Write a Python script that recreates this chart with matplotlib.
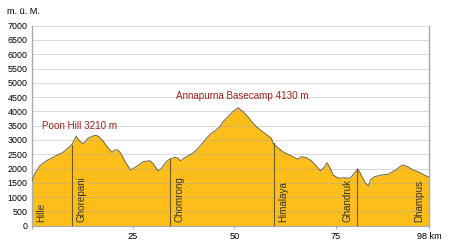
import matplotlib
matplotlib.use("Agg")
import matplotlib.pyplot as plt

plt.rcParams['font.family'] = ['Liberation Sans', 'DejaVu Sans']

# Elevation profile (km, m above sea level)
dist_km = [0, 0.9, 2.1, 3.7, 5.0, 6.2, 7.8, 9.5, 9.9, 11.0, 11.9, 12.8, 14.0, 15.6, 16.5,
           17.7, 18.9, 19.8, 20.6, 21.4, 22.2, 23.0, 24.4, 25.8, 27.5, 29.1, 29.9, 31.2,
           32.0, 33.2, 34.0, 35.3, 36.1, 36.7, 37.7, 39.0, 40.2, 41.4, 43.1, 44.3, 45.5,
           46.4, 47.2, 48.4, 49.6, 50.9, 52.1, 53.3, 54.1, 55.4, 56.6, 57.8, 59.1, 59.5,
           60.7, 61.9, 63.2, 64.4, 65.6, 66.5, 67.7, 68.9, 70.1, 71.2, 72.2, 72.8, 73.4,
           74.3, 75.2, 76.0, 77.1, 78.4, 79.2, 80.4, 81.2, 82.2, 83.0, 83.5, 84.5, 86.2,
           87.8, 89.0, 89.8, 90.7, 91.5, 92.7, 94.0, 95.2, 96.8, 98.0]
elev_m = [1520, 1845, 2100, 2275, 2370, 2460, 2570, 2780, 2835, 3130, 2950, 2870, 3070, 3165, 3130,
          2950, 2720, 2570, 2660, 2640, 2485, 2250, 1950, 2065, 2240, 2275, 2180, 1915,
          2010, 2240, 2325, 2395, 2360, 2265, 2380, 2475, 2590, 2765, 3060, 3235, 3350,
          3465, 3640, 3815, 3990, 4130, 3990, 3815, 3665, 3465, 3325, 3200, 3060, 2885,
          2730, 2590, 2500, 2415, 2325, 2415, 2380, 2275, 2100, 1915, 2065, 2205, 2065,
          1775, 1690, 1660, 1680, 1660, 1775, 1990, 1775, 1500, 1390, 1600, 1715, 1775,
          1800, 1890, 1950, 2065, 2125, 2065, 1950, 1890, 1775, 1690]

# Villages
village_names = ["Hille", "Ghorepani", "Chomrong", "Himalaya", "Ghandruk", "Dhampus"]
village_km = [0, 9.9, 34.0, 59.7, 80.3, 98.0]
label_side = ["right", "right", "right", "right", "left", "left"]

# Peaks annotations
peak_labels = ["Poon Hill 3210 m", "Annapurna Basecamp 4130 m"]
peak_text_pos = [(2.7, 3500), (35.5, 4530)]

yticks = list(range(0, 7001, 500))
xticks = [0, 25, 50, 75, 98]
xtick_labels = ["", "25", "50", "75", "98 km"]

fig = plt.figure(figsize=(4.5, 2.46), dpi=100)
ax = fig.add_axes([0.07, 0.0825, 0.884, 0.813])

fill_color = "#FDBE19"
ax.fill_between(dist_km, 0, elev_m, color=fill_color, lw=0, zorder=1)
ax.plot(dist_km, elev_m, color="#6e6440", lw=0.7, zorder=3)

# grid
for y in yticks:
    ax.axhline(y, color="#aaaaaa", lw=0.6, ls=(0, (1.2, 1.2)), zorder=2)

# village lines and labels
for name, km, side in zip(village_names, village_km, label_side):
    h = elev_m[min(range(len(dist_km)), key=lambda i: abs(dist_km[i] - km))]
    if 0 < km < 98:
        ax.plot([km, km], [0, h], color="#6e5a20", lw=0.8, zorder=3)
    off = 2.4 if side == "right" else -2.4
    ax.text(km + off, 120, name, rotation=90, ha="center", va="bottom",
            fontsize=7.1, color="#333333", zorder=4)

for txt, (xp, yp) in zip(peak_labels, peak_text_pos):
    ax.text(xp, yp, txt, fontsize=7.1, color="#a3221c", ha="left", va="center", zorder=4)

ax.set_xlim(0, 98)
ax.set_ylim(0, 7000)
ax.set_yticks(yticks)
ax.set_yticklabels([str(y) for y in yticks], fontsize=6.4)
ax.set_xticks(xticks)
ax.set_xticklabels(xtick_labels, fontsize=6.6)
ax.tick_params(axis='y', length=0, pad=3)
ax.tick_params(axis='x', length=2.5, color="#aaaaaa", pad=2)

for s in ["left", "right", "bottom"]:
    ax.spines[s].set_color("#aaaaaa")
    ax.spines[s].set_linewidth(1.0)
ax.spines["top"].set_visible(False)
ax.spines["bottom"].set_linewidth(0.8)

fig.text(7 / 450, 1 - 12 / 246, "m. ü. M.", fontsize=6.6, ha="left", va="center")

fig.savefig("out.png", dpi=100)
